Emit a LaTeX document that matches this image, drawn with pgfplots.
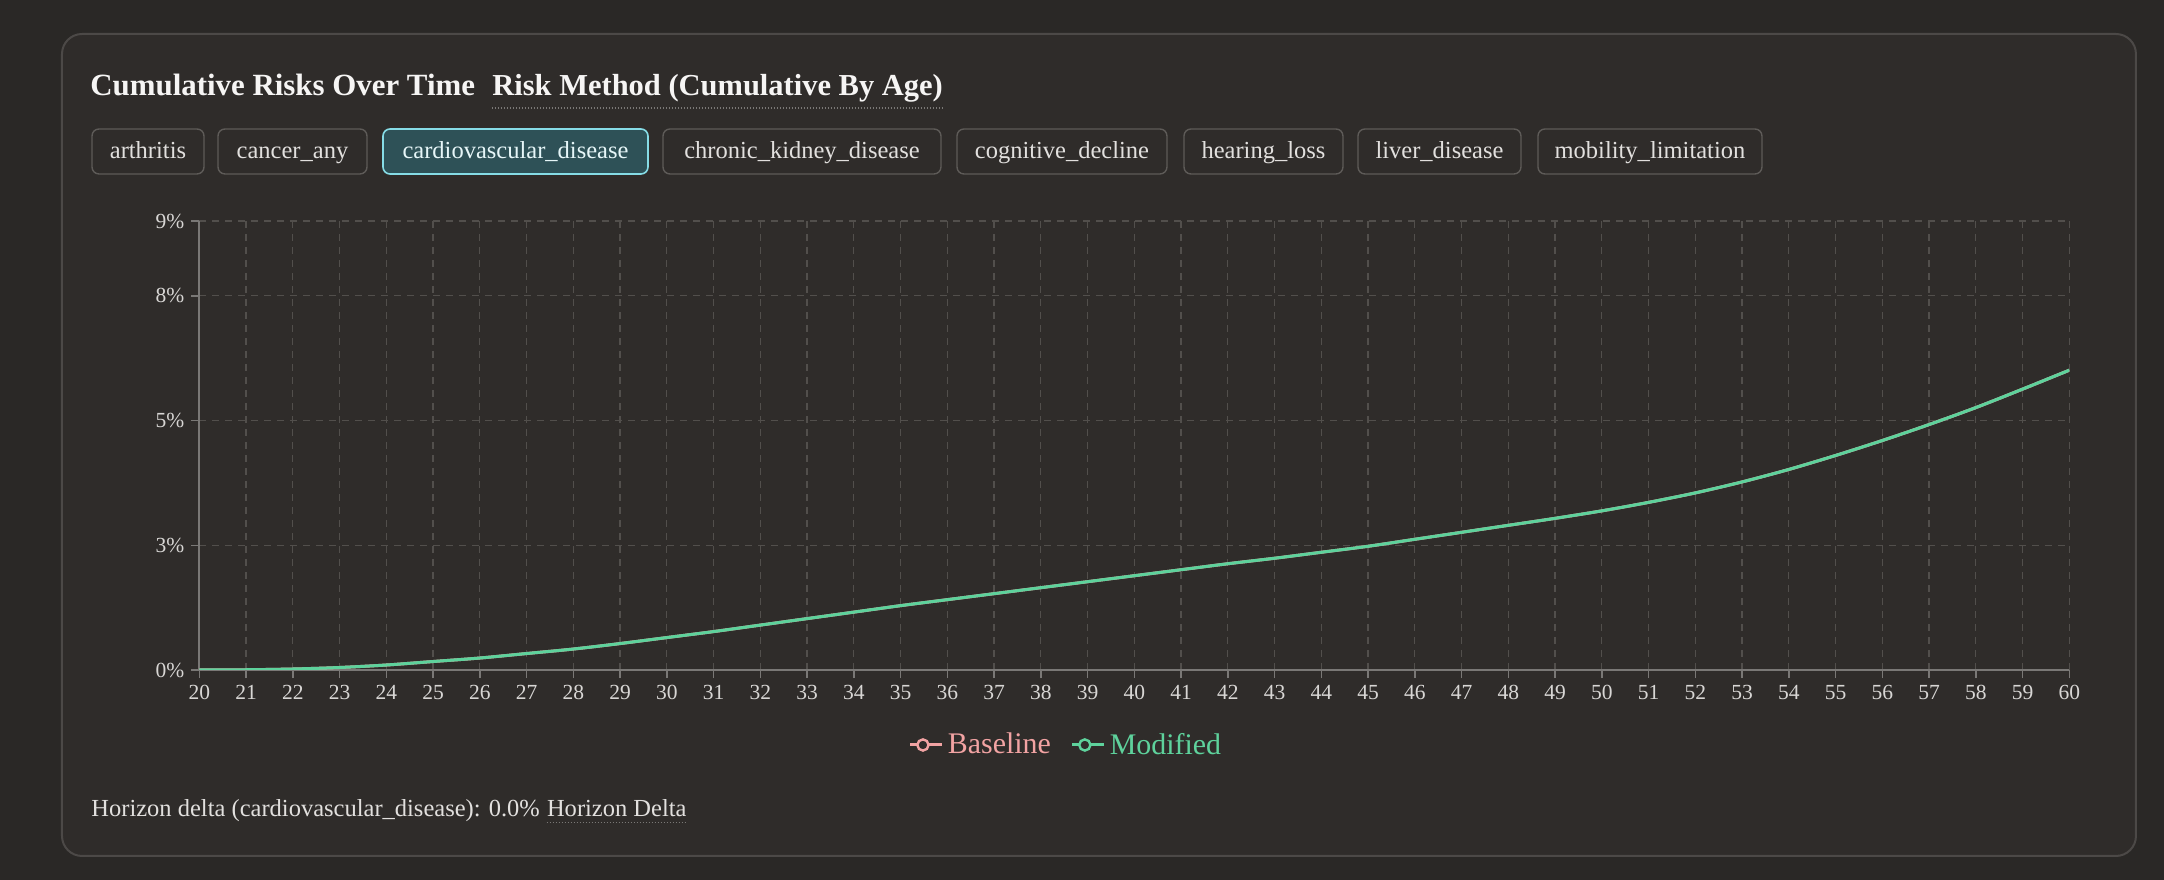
\documentclass[border=0pt]{standalone}
\usepackage{pgfplots}
\pgfplotsset{compat=1.18}
\usepackage{pgfplotstable}
\usepackage{fontspec}
\setmainfont{Liberation Serif}
\usetikzlibrary{calc}

\definecolor{pagebg}{HTML}{2A2826}
\definecolor{cardbg}{HTML}{2F2C2A}
\definecolor{cardborder}{HTML}{4C4947}
\definecolor{btnborder}{HTML}{5E5B58}
\definecolor{selfill}{HTML}{2E5157}
\definecolor{selborder}{HTML}{86DCE6}
\definecolor{txt}{HTML}{E2E0DE}
\definecolor{titletxt}{HTML}{F6F5F4}
\definecolor{seltxt}{HTML}{E6F6F8}
\definecolor{ticktxt}{HTML}{D8D6D4}
\definecolor{gridc}{HTML}{524F4C}
\definecolor{axisc}{HTML}{7A7876}
\definecolor{greenc}{HTML}{5ED29C}
\definecolor{pinkc}{HTML}{F2A3A3}

% cumulative risk in percent, by age
\pgfplotstableread{
age risk
20 0.000
21 0.005
22 0.02
23 0.05
24 0.10
25 0.17
26 0.24
27 0.33
28 0.42
29 0.53
30 0.65
31 0.77
32 0.90
33 1.03
34 1.16
35 1.29
36 1.41
37 1.53
38 1.65
39 1.77
40 1.89
41 2.01
42 2.13
43 2.24
44 2.36
45 2.48
46 2.62
47 2.76
48 2.90
49 3.04
50 3.19
51 3.36
52 3.55
53 3.77
54 4.02
55 4.30
56 4.60
57 4.92
58 5.26
59 5.63
60 6.01
}\baselinetable

\pgfplotstableread{
age risk
20 0.000
21 0.005
22 0.02
23 0.05
24 0.10
25 0.17
26 0.24
27 0.33
28 0.42
29 0.53
30 0.65
31 0.77
32 0.90
33 1.03
34 1.16
35 1.29
36 1.41
37 1.53
38 1.65
39 1.77
40 1.89
41 2.01
42 2.13
43 2.24
44 2.36
45 2.48
46 2.62
47 2.76
48 2.90
49 3.04
50 3.19
51 3.36
52 3.55
53 3.77
54 4.02
55 4.30
56 4.60
57 4.92
58 5.26
59 5.63
60 6.01
}\modifiedtable

\newcommand{\btn}[4]{% x1, x2, label, selected
  \ifnum#4=1
    \draw[selborder, fill=selfill, line width=0.8bp, rounded corners=3.5bp] (#1,129) rectangle (#2,174);
    \node[anchor=base, inner sep=0pt, text=seltxt, font=\fontsize{12.3}{14}\selectfont] at ({(#1+#2)/2},159) {#3};
  \else
    \draw[btnborder, fill=cardbg, line width=0.7bp, rounded corners=3.5bp] (#1,129) rectangle (#2,174);
    \node[anchor=base, inner sep=0pt, text=txt, font=\fontsize{12.3}{14}\selectfont] at ({(#1+#2)/2},159) {#3};
  \fi
}

\begin{document}
\begin{tikzpicture}
\fill[pagebg] (0,0) rectangle (1082bp,440bp);
\useasboundingbox (0,0) rectangle (1082bp,440bp);
\begin{scope}[x=0.5bp,y=-0.5bp,shift={(0bp,440bp)}]
  \draw[cardborder, fill=cardbg, line width=1bp, rounded corners=10bp] (62,34) rectangle (2136,856);
  % title
  \node[anchor=base west, inner sep=0pt, text=titletxt, font=\bfseries\fontsize{15.5}{18}\selectfont] at (90,96) {Cumulative Risks Over Time};
  \node[anchor=base west, inner sep=0pt, text=titletxt, font=\bfseries\fontsize{15.3}{18}\selectfont] (rm) at (492,96) {Risk Method (Cumulative By Age)};
  \draw[axisc, line width=0.6bp, dash pattern=on 0.6bp off 0.9bp] (492,108) -- (rm.base east |- 0,108);
  % buttons
  \btn{92}{204}{arthritis}{0}
  \btn{218}{367}{cancer\_any}{0}
  \btn{383}{648}{cardiovascular\_disease}{1}
  \btn{663}{941}{chronic\_kidney\_disease}{0}
  \btn{957}{1167}{cognitive\_decline}{0}
  \btn{1184}{1343}{hearing\_loss}{0}
  \btn{1358}{1521}{liver\_disease}{0}
  \btn{1538}{1762}{mobility\_limitation}{0}
  % footer
  \node[anchor=base west, inner sep=0pt, text=txt, font=\fontsize{12.3}{14}\selectfont] (f1) at (91,817) {Horizon delta (cardiovascular\_disease): 0.0\%};
  \node[anchor=base west, inner sep=0pt, text=txt, font=\fontsize{12.3}{14}\selectfont] (f2) at ($(f1.base east)+(3.2bp,0bp)$) {Horizon Delta};
  \draw[axisc, line width=0.6bp, dash pattern=on 0.6bp off 0.9bp] ($(f2.base west)+(0bp,-2.8bp)$) -- ($(f2.base east)+(0bp,-2.8bp)$);
\end{scope}

\begin{axis}[
  at={(99.65bp,105bp)}, anchor=south west,
  scale only axis, width=935bp, height=224.5bp,
  xmin=20, xmax=60, ymin=0, ymax=9,
  xtick={20,21,...,60},
  ytick={0,2.5,5,7.5,9},
  yticklabels={0\%,3\%,5\%,8\%,9\%},
  axis lines=left,
  axis line style={-, draw=axisc, line width=0.9bp},
  grid=major,
  major grid style={draw=gridc, dash pattern=on 3.5bp off 3bp, line width=0.6bp},
  tick align=outside, major tick length=4bp,
  tick style={draw=axisc, line width=0.7bp},
  tick label style={font=\fontsize{10.8}{12}\selectfont, text=ticktxt},
  /pgf/number format/assume math mode=true,
  legend style={at={(0.4640,-0.167)}, anchor=center, draw=none, fill=none,
    font=\fontsize{15}{18}\selectfont, legend columns=2,
    /tikz/every even column/.append style={column sep=8bp}},
]
\addplot[pinkc, line width=1.5bp, smooth, no markers,
  legend image code/.code={
    \path (0bp,0bp) -- (16bp,0bp);
    \draw[pinkc, line width=1.5bp] (0bp,0bp) -- (12.5bp,0bp);
    \draw[pinkc, line width=1.2bp, fill=cardbg] (6.25bp,0bp) circle (2.8bp);
  }] table[x=age, y=risk] {\baselinetable};
\addlegendentry{\textcolor{pinkc}{Baseline}}
\addplot[greenc, line width=1.5bp, smooth, no markers,
  legend image code/.code={
    \path (0bp,0bp) -- (16bp,0bp);
    \draw[greenc, line width=1.5bp] (0bp,0bp) -- (12.5bp,0bp);
    \draw[greenc, line width=1.2bp, fill=cardbg] (6.25bp,0bp) circle (2.8bp);
  }] table[x=age, y=risk] {\modifiedtable};
\addlegendentry{\textcolor{greenc}{Modified}}
\end{axis}
\end{tikzpicture}
\end{document}
